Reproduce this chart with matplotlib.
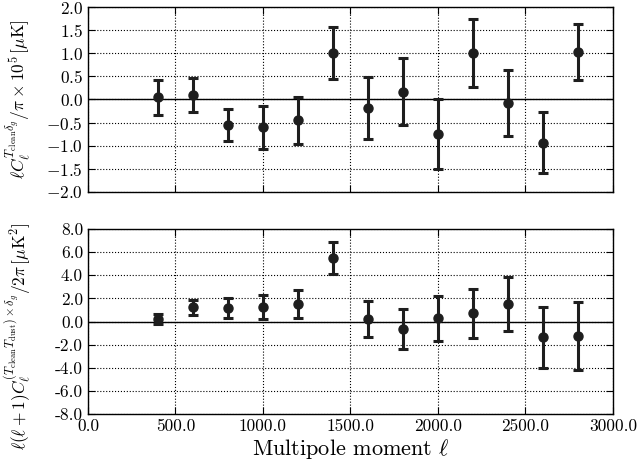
import matplotlib
matplotlib.use('Agg')
import matplotlib.pyplot as plt
from matplotlib.ticker import FormatStrFormatter, MultipleLocator

plt.rcParams['font.family'] = 'serif'
plt.rcParams['font.serif'] = ['cmr10', 'DejaVu Serif']
plt.rcParams['mathtext.fontset'] = 'cm'
plt.rcParams['axes.unicode_minus'] = False

# Data
ell = [400, 600, 800, 1000, 1200, 1400, 1600, 1800, 2000, 2200, 2400, 2600, 2800]

top_val = [0.05, 0.10, -0.55, -0.60, -0.45, 1.00, -0.18, 0.17, -0.75, 1.00, -0.07, -0.93, 1.03]
top_err = [0.38, 0.37, 0.35, 0.46, 0.51, 0.56, 0.67, 0.73, 0.76, 0.74, 0.71, 0.67, 0.61]

bot_val = [0.20, 1.23, 1.17, 1.28, 1.51, 5.47, 0.19, -0.62, 0.27, 0.71, 1.54, -1.37, -1.23]
bot_err = [0.45, 0.67, 0.87, 1.04, 1.20, 1.37, 1.55, 1.73, 1.93, 2.10, 2.34, 2.64, 2.95]

col = '#1e1e1e'

fig = plt.figure(figsize=(6.39, 4.70), dpi=100)
ax1 = fig.add_axes([0.1377, 0.5915, 0.8216, 0.3936])
ax2 = fig.add_axes([0.1377, 0.1191, 0.8216, 0.3937])

for ax, v, e in [(ax1, top_val, top_err), (ax2, bot_val, bot_err)]:
    ax.axhline(0, color='black', lw=1.0, zorder=1)
    ax.errorbar(ell, v, yerr=e, fmt='o', color=col, ms=6.5, elinewidth=2.2,
                capsize=3.5, capthick=2.2, zorder=3)
    ax.grid(True, color='black', linestyle=':', lw=0.8)
    ax.set_xlim(0, 3000)
    ax.xaxis.set_major_locator(MultipleLocator(500))
    ax.tick_params(direction='in', right=True, top=True, labelsize=12.5, length=5)
    for s in ax.spines.values():
        s.set_linewidth(1.0)

ax1.set_ylim(-2, 2)
ax1.yaxis.set_major_locator(MultipleLocator(0.5))
ax1.yaxis.set_major_formatter(FormatStrFormatter('$%.1f$'))
ax1.tick_params(labelbottom=False)
ax1.set_ylabel(r'$\ell C_\ell^{T_{\rm clean}\delta_g}/\pi\times 10^5\,[\mu{\rm K}]$', fontsize=12.5)
ax1.yaxis.set_label_coords(-0.105, 0.5)

ax2.set_ylim(-8, 8)
ax2.yaxis.set_major_locator(MultipleLocator(2))
ax2.yaxis.set_major_formatter(FormatStrFormatter('%.1f'))
ax2.xaxis.set_major_formatter(FormatStrFormatter('%.1f'))
ax2.set_ylabel(r'$\ell(\ell+1)C_\ell^{(T_{\rm clean}T_{\rm dust})\times\delta_g}/2\pi\,[\mu{\rm K}^2]$',
               fontsize=12.5)
ax2.yaxis.set_label_coords(-0.105, 0.42)
ax2.set_xlabel(r'Multipole moment $\ell$', fontsize=16, labelpad=2)

fig.savefig('out.png', dpi=100)
